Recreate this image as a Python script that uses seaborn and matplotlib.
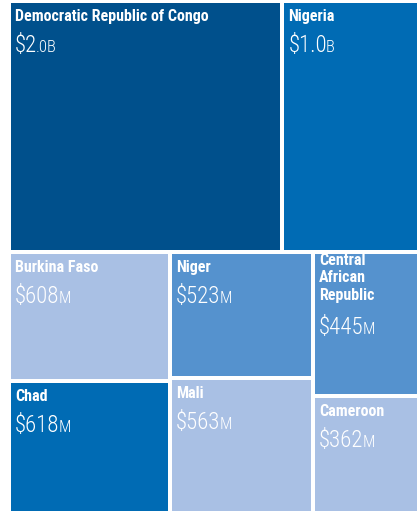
import matplotlib
matplotlib.use("Agg")
import matplotlib.pyplot as plt
from matplotlib.patches import Rectangle
import seaborn as sns

# Data (USD, millions)
countries = ["Democratic Republic of Congo", "Nigeria", "Burkina Faso", "Chad",
             "Niger", "Mali", "Central\nAfrican\nRepublic", "Cameroon"]
values = [2000, 1000, 608, 618, 523, 563, 445, 362]
amount_big = ["2", "1.0", "608", "618", "523", "563", "445", "362"]
amount_small = [".0B", "B", "M", "M", "M", "M", "M", "M"]

# treemap grouping: one top row, three columns below
top_row = [0, 1]
bottom_cols = [[2, 3], [4, 5], [6, 7]]

c_dark = "#00508c"
c_mid = "#006bb4"
c_soft = "#5592ce"
c_light = "#a9c0e4"
colors = [c_dark, c_mid, c_light, c_mid, c_soft, c_light, c_soft, c_light]

W, H = 410, 512
gap = 4

sns.set_style("white")
plt.rcParams["font.family"] = ["Roboto Condensed", "Roboto", "DejaVu Sans"]

fig = plt.figure(figsize=(4.18, 5.13), dpi=100)
ax = fig.add_axes([9 / 418, 0, W / 418, H / 513])
ax.set_xlim(0, W)
ax.set_ylim(H, 0)
ax.axis("off")

total = sum(values)
top_sum = sum(values[i] for i in top_row)
top_h = H * top_sum / total

# compute boxes (x, y, w, h)
boxes = {}
x = 0
for i in top_row:
    w = W * values[i] / top_sum
    boxes[i] = (x, 0, w, top_h)
    x += w

bottom_sum = total - top_sum
x = 0
for col in bottom_cols:
    col_sum = sum(values[i] for i in col)
    w = W * col_sum / bottom_sum
    y = top_h
    for i in col:
        h = (H - top_h) * values[i] / col_sum
        boxes[i] = (x, y, w, h)
        y += h
    x += w


def draw_box(i):
    bx, by, bw, bh = boxes[i]
    ax.add_patch(Rectangle((bx, by), bw, bh, facecolor=colors[i],
                           edgecolor="white", linewidth=gap * 0.72))
    nlines = countries[i].count("\n") + 1
    pad = 8 if nlines == 1 else 1
    ax.text(bx + 6, by + pad, countries[i], color="white", fontsize=11.5,
            fontweight="bold", va="top", ha="left", linespacing=1.2)
    base = by + pad + 19 * nlines + 24
    t = ax.text(bx + 6, base, "$" + amount_big[i], color="white",
                fontsize=16.5, fontweight="light", va="baseline", ha="left")
    ax.annotate(amount_small[i], xy=(1, base), xycoords=(t, "data"),
                xytext=(-1, 0), textcoords="offset pixels",
                color="white", fontsize=12, fontweight="light",
                va="baseline", ha="left")


for i in range(len(countries)):
    draw_box(i)

fig.savefig("out.png", dpi=100)
